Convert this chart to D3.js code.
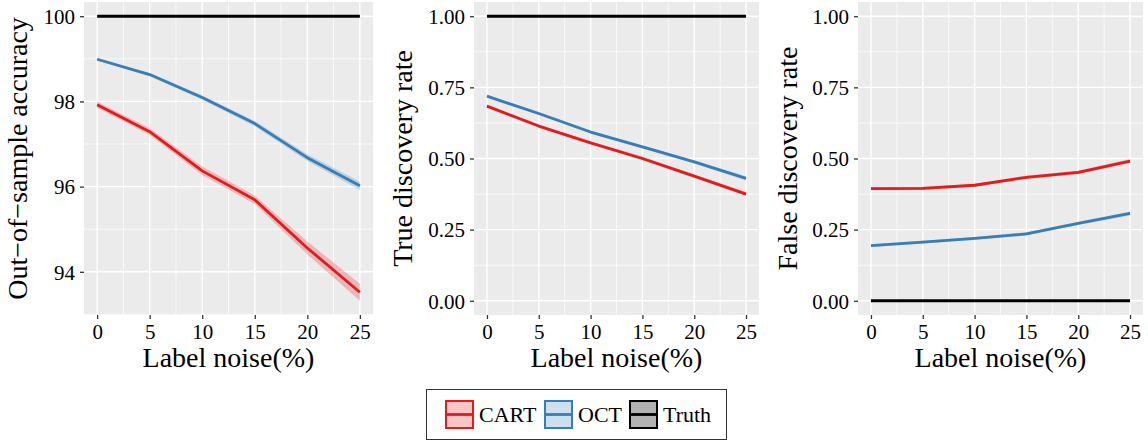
<!DOCTYPE html>
<html>
<head>
<meta charset="utf-8">
<script src="https://cdn.jsdelivr.net/npm/d3@7"></script>
<style>
  body { margin: 0; background: #fff; }
  svg text { font-family: "Liberation Serif", "DejaVu Serif", serif; fill: #000; }
</style>
</head>
<body>
<svg id="chart" width="1148" height="443"></svg>
<script>
// label noise levels (x)
var noise = [0, 5, 10, 15, 20, 25];

// out-of-sample accuracy (%)
var accCART = [97.92, 97.29, 96.37, 95.69, 94.56, 93.52];
var accCARTci = [0.07, 0.08, 0.10, 0.10, 0.15, 0.20];
var accOCT = [98.99, 98.63, 98.09, 97.48, 96.68, 96.02];
var accOCTci = [0.03, 0.04, 0.05, 0.06, 0.08, 0.10];

// true discovery rate
var tdrCART = [0.684, 0.614, 0.555, 0.500, 0.438, 0.375];
var tdrOCT = [0.719, 0.658, 0.593, 0.541, 0.488, 0.430];

// false discovery rate
var fdrCART = [0.394, 0.395, 0.406, 0.434, 0.451, 0.491];
var fdrOCT = [0.194, 0.206, 0.219, 0.235, 0.272, 0.307];
var rateCI = [0.005, 0.005, 0.005, 0.006, 0.006, 0.007];

var truth = { acc: 100, tdr: 1, fdr: 0 };

var xTicks = [0, 5, 10, 15, 20, 25];
var accTicks = [94, 96, 98, 100];
var rateTicks = [0, 0.25, 0.5, 0.75, 1];

var methods = ["CART", "OCT", "Truth"];
var colors = { CART: "#E41A1C", OCT: "#377EB8", Truth: "#000000" };

var svg = d3.select("#chart");

function series(vals, ci) {
  return vals.map(function(v, i) {
    return { x: noise[i], y: v, lo: v - ci[i], hi: v + ci[i] };
  });
}
function flat(v) {
  return noise.map(function(x) { return { x: x, y: v, lo: v, hi: v }; });
}

var panels = [
  {
    left: 84, right: 373, title: "Out\u2212of\u2212sample accuracy", titleX: 27,
    ticks: accTicks, fmt: d3.format("d"),
    data: { CART: series(accCART, accCARTci), OCT: series(accOCT, accOCTci), Truth: flat(truth.acc) },
    domain: null
  },
  {
    left: 474, right: 759, title: "True discovery rate", titleX: 412,
    ticks: rateTicks, fmt: d3.format(".2f"),
    data: { CART: series(tdrCART, rateCI), OCT: series(tdrOCT, rateCI), Truth: flat(truth.tdr) },
    domain: [0, 1]
  },
  {
    left: 858, right: 1143, title: "False discovery rate", titleX: 797,
    ticks: rateTicks, fmt: d3.format(".2f"),
    data: { CART: series(fdrCART, rateCI), OCT: series(fdrOCT, rateCI), Truth: flat(truth.fdr) },
    domain: [0, 1]
  }
];

var plotTop = 2, plotBottom = 315;

panels.forEach(function(p) {
  var lo, hi;
  if (p.domain) {
    lo = p.domain[0]; hi = p.domain[1];
  } else {
    var all = d3.merge(methods.map(function(m) { return p.data[m]; }));
    lo = d3.min(all, function(d) { return d.lo; });
    hi = d3.max(all, function(d) { return d.hi; });
  }
  var pad = (hi - lo) * 0.05;
  var x = d3.scaleLinear().domain([-1.25, 26.25]).range([p.left, p.right]);
  var y = d3.scaleLinear().domain([lo - pad, hi + pad]).range([plotBottom, plotTop]);

  var g = svg.append("g");
  g.append("rect")
    .attr("x", p.left).attr("y", plotTop)
    .attr("width", p.right - p.left).attr("height", plotBottom - plotTop)
    .attr("fill", "#EBEBEB");

  // minor grid
  var step = p.ticks[1] - p.ticks[0];
  var yMinor = [];
  for (var v = p.ticks[0] - step / 2; v <= hi + pad; v += step) {
    if (v >= lo - pad) yMinor.push(v);
  }
  var xMinor = [2.5, 7.5, 12.5, 17.5, 22.5];
  g.selectAll(".ymin").data(yMinor).enter().append("line")
    .attr("x1", p.left).attr("x2", p.right)
    .attr("y1", function(d) { return y(d); }).attr("y2", function(d) { return y(d); })
    .attr("stroke", "#fff").attr("stroke-width", 0.7);
  g.selectAll(".xmin").data(xMinor).enter().append("line")
    .attr("y1", plotTop).attr("y2", plotBottom)
    .attr("x1", function(d) { return x(d); }).attr("x2", function(d) { return x(d); })
    .attr("stroke", "#fff").attr("stroke-width", 0.7);
  // major grid
  g.selectAll(".ymaj").data(p.ticks).enter().append("line")
    .attr("x1", p.left).attr("x2", p.right)
    .attr("y1", function(d) { return y(d); }).attr("y2", function(d) { return y(d); })
    .attr("stroke", "#fff").attr("stroke-width", 1.4);
  g.selectAll(".xmaj").data(xTicks).enter().append("line")
    .attr("y1", plotTop).attr("y2", plotBottom)
    .attr("x1", function(d) { return x(d); }).attr("x2", function(d) { return x(d); })
    .attr("stroke", "#fff").attr("stroke-width", 1.4);

  var area = d3.area()
    .x(function(d) { return x(d.x); })
    .y0(function(d) { return y(d.lo); })
    .y1(function(d) { return y(d.hi); });
  var line = d3.line()
    .x(function(d) { return x(d.x); })
    .y(function(d) { return y(d.y); });

  methods.forEach(function(m) {
    g.append("path").attr("d", area(p.data[m]))
      .attr("fill", colors[m]).attr("fill-opacity", 0.25);
  });
  methods.forEach(function(m) {
    g.append("path").attr("d", line(p.data[m]))
      .attr("fill", "none").attr("stroke", colors[m])
      .attr("stroke-width", 2.8).attr("stroke-linejoin", "round");
  });

  // axes
  var ax = g.append("g")
    .attr("transform", "translate(0," + plotBottom + ")")
    .call(d3.axisBottom(x).tickValues(xTicks).tickSize(4).tickPadding(5));
  var ay = g.append("g")
    .attr("transform", "translate(" + p.left + ",0)")
    .call(d3.axisLeft(y).tickValues(p.ticks).tickFormat(p.fmt).tickSize(4).tickPadding(5));
  [ax, ay].forEach(function(a) {
    a.select(".domain").remove();
    a.selectAll(".tick line").attr("stroke", "#333").attr("stroke-width", 1.3);
    a.selectAll(".tick text").attr("font-size", 21)
      .attr("font-family", "Liberation Serif").attr("fill", "#000");
  });
  ay.selectAll(".tick text").attr("dy", "0.35em");
  ax.selectAll(".tick text").attr("dy", "0.71em");

  g.append("text")
    .attr("x", (p.left + p.right) / 2).attr("y", 367)
    .attr("text-anchor", "middle").attr("font-size", 28)
    .text("Label noise(%)");
  g.append("text")
    .attr("transform", "translate(" + p.titleX + "," + ((plotTop + plotBottom) / 2) + ") rotate(-90)")
    .attr("text-anchor", "middle").attr("font-size", 28)
    .text(p.title);
});

// legend
var leg = svg.append("g");
leg.append("rect")
  .attr("x", 426.5).attr("y", 389.5).attr("width", 300).attr("height", 50)
  .attr("fill", "#fff").attr("stroke", "#333").attr("stroke-width", 1);
var legX = [445, 544, 629];
methods.forEach(function(m, i) {
  var k = leg.append("g").attr("transform", "translate(" + legX[i] + ",400)");
  k.append("rect").attr("x", 1).attr("y", 1).attr("width", 27).attr("height", 27)
    .attr("fill", colors[m]).attr("fill-opacity", m === "Truth" ? 0.3 : 0.25)
    .attr("stroke", colors[m]).attr("stroke-width", 2);
  k.append("line").attr("x1", 1).attr("x2", 28).attr("y1", 14.5).attr("y2", 14.5)
    .attr("stroke", colors[m]).attr("stroke-width", 2.8);
  k.append("text").attr("x", 34).attr("y", 22).attr("font-size", 22).text(m);
});
</script>
</body>
</html>
